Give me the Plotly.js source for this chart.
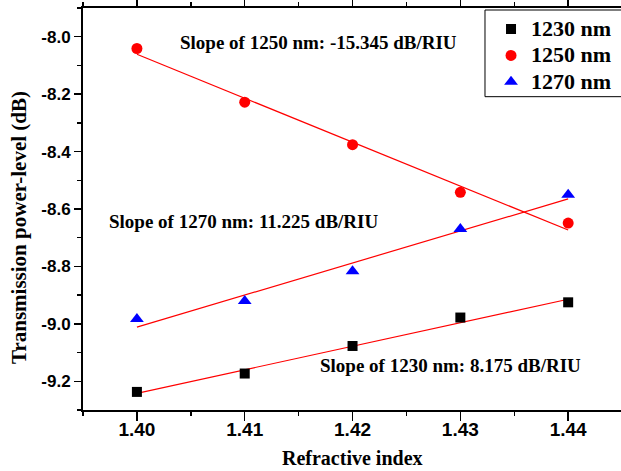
<!DOCTYPE html>
<html>
<head>
<meta charset="utf-8">
<script src="https://cdn.plot.ly/plotly-3.0.1.min.js"></script>
<style>html,body{margin:0;padding:0;background:#fff;}#chart{width:621px;height:471px;}</style>
</head>
<body>
<div id="chart"></div>
<script>
// Data
const refractiveIndex = [1.40, 1.41, 1.42, 1.43, 1.44];
const p1230 = [-9.237, -9.173, -9.077, -8.978, -8.925];
const p1250 = [-8.041, -8.228, -8.376, -8.542, -8.649];
const p1270 = [-8.983, -8.920, -8.817, -8.670, -8.550];
const seriesNames = ['1230 nm', '1250 nm', '1270 nm'];
const slopeLabels = ['Slope of 1230 nm: 8.175 dB/RIU', 'Slope of 1250 nm: -15.345 dB/RIU', 'Slope of 1270 nm: 11.225 dB/RIU'];
const xTicks = [1.40, 1.41, 1.42, 1.43, 1.44];
const yTicks = [-8.0, -8.2, -8.4, -8.6, -8.8, -9.0, -9.2];

function fit(x, y) {
  const n = x.length;
  const mx = x.reduce((a, b) => a + b, 0) / n;
  const my = y.reduce((a, b) => a + b, 0) / n;
  let sxy = 0, sxx = 0;
  for (let i = 0; i < n; i++) { sxy += (x[i] - mx) * (y[i] - my); sxx += (x[i] - mx) ** 2; }
  const m = sxy / sxx, b = my - m * mx;
  return x.map(v => m * v + b);
}
const B = s => '<b>' + s + '</b>';
const LG = s => '<span style="font-size:22px"><b>' + s + '</b></span>';

const serif = 'Liberation Serif, Times New Roman, serif';
const sans = 'Liberation Sans, Arial, sans-serif';

const fitLine = (y) => ({
  x: refractiveIndex, y: fit(refractiveIndex, y), mode: 'lines', showlegend: false,
  line: {color: '#ff0000', width: 1.2}, hoverinfo: 'skip'
});

const data = [
  fitLine(p1230), fitLine(p1250), fitLine(p1270),
  {x: refractiveIndex, y: p1230, mode: 'markers', name: LG(seriesNames[0]),
   marker: {symbol: 'square', size: 10, color: '#000000'}},
  {x: refractiveIndex, y: p1250, mode: 'markers', name: LG(seriesNames[1]),
   marker: {symbol: 'circle', size: 11, color: '#ff0000'}},
  {x: refractiveIndex, y: p1270, mode: 'markers', name: LG(seriesNames[2]),
   marker: {symbol: 'triangle-up', size: 12, color: '#0000ff'}}
];

const annFont = {family: serif, size: 19, color: '#000'};
const layout = {
  width: 621, height: 471,
  margin: {l: 83, r: 0, t: 8, b: 61},
  paper_bgcolor: '#fff', plot_bgcolor: '#fff',
  showlegend: true,
  legend: {x: 0.7584, y: 0.993, xanchor: 'left', yanchor: 'top',
    borderwidth: 0, bgcolor: 'rgba(0,0,0,0)',
    font: {family: serif, size: 18, color: '#000'},
    tracegroupgap: 0, itemsizing: 'trace'},
  shapes: [
    {type: 'rect', xref: 'paper', yref: 'paper', x0: 0.7472, x1: 1.2, y0: 0.7794, y1: 0.995,
     line: {color: '#000', width: 1}, fillcolor: 'rgba(0,0,0,0)', layer: 'above'}
  ],
  xaxis: {
    range: [1.395, 1.4449], tickvals: xTicks, ticktext: xTicks.map(v => B(v.toFixed(2))),
    ticks: 'outside', ticklen: 9, tickwidth: 1.5, tickcolor: '#000',
    minor: {dtick: 0.005, tick0: 1.395, ticks: 'outside', ticklen: 4, tickwidth: 1.5, tickcolor: '#000'},
    showline: true, linecolor: '#000', linewidth: 2, mirror: 'ticks',
    showgrid: false, zeroline: false, ticklabelstandoff: -8,
    tickfont: {family: sans, size: 19, color: '#000'}
  },
  yaxis: {
    range: [-9.3, -7.9], tickvals: yTicks, ticktext: yTicks.map(v => B(v.toFixed(1))),
    ticks: 'outside', ticklen: 7, tickwidth: 1.5, tickcolor: '#000',
    minor: {dtick: 0.1, tick0: -9.3, ticks: 'outside', ticklen: 4, tickwidth: 1.5, tickcolor: '#000'},
    showline: true, linecolor: '#000', linewidth: 2,
    showgrid: false, zeroline: false,
    tickfont: {family: sans, size: 17, color: '#000'}
  },
  annotations: [
    {x: 0.5, y: -0.1185, xref: 'paper', yref: 'paper', xanchor: 'center', yanchor: 'middle',
     text: B('Refractive index'), showarrow: false, font: {family: serif, size: 20, color: '#000'}},
    {x: -0.118, y: 0.454, xref: 'paper', yref: 'paper', xanchor: 'center', yanchor: 'middle', textangle: -90,
     text: B('Transmission power-level (dB)'), showarrow: false, font: {family: serif, size: 21, color: '#000'}},
    {x: 1.4038, y: -8.02, xref: 'x', yref: 'y', xanchor: 'left', yanchor: 'middle', text: B(slopeLabels[1]), showarrow: false, font: annFont},
    {x: 1.3972, y: -8.645, xref: 'x', yref: 'y', xanchor: 'left', yanchor: 'middle', text: B(slopeLabels[2]), showarrow: false, font: annFont},
    {x: 1.4168, y: -9.144, xref: 'x', yref: 'y', xanchor: 'left', yanchor: 'middle', text: B(slopeLabels[0]), showarrow: false, font: annFont}
  ]
};

Plotly.newPlot('chart', data, layout, {displayModeBar: false, staticPlot: true});
</script>
</body>
</html>
